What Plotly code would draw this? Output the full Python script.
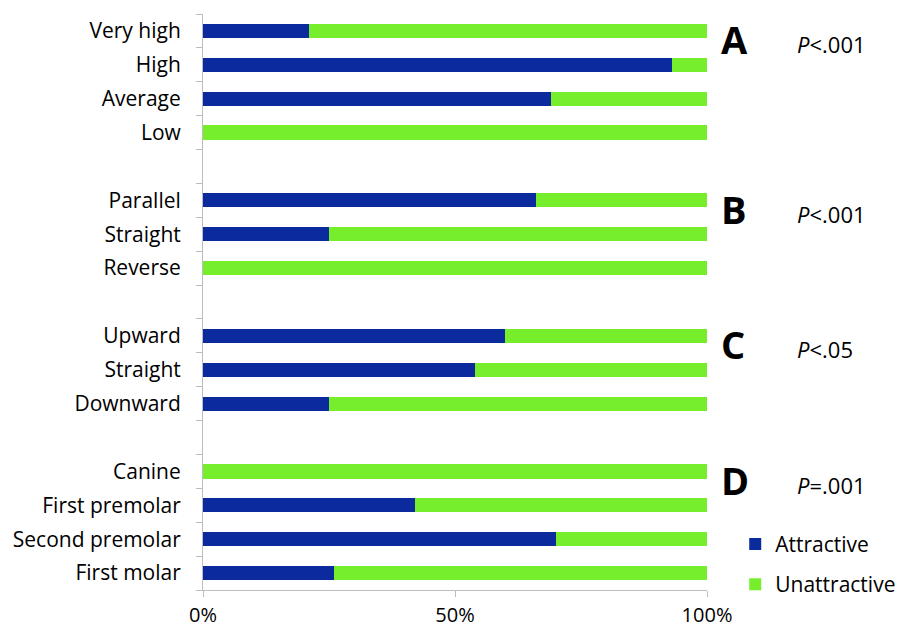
import plotly.graph_objects as go

categories = ["Very high", "High", "Average", "Low", "",
              "Parallel", "Straight", "Reverse", "",
              "Upward", "Straight", "Downward", "",
              "Canine", "First premolar", "Second premolar", "First molar"]
attractive = [0.21, 0.93, 0.69, 0.0, None,
              0.66, 0.25, 0.0, None,
              0.60, 0.54, 0.25, None,
              0.0, 0.42, 0.70, 0.26]
unattractive = [None if a is None else round(1 - a, 4) for a in attractive]

group_letters = ["A", "B", "C", "D"]
group_first_rows = [0, 5, 9, 13]
p_values = ["<i>P</i>&lt;.001", "<i>P</i>&lt;.001", "<i>P</i>&lt;.05", "<i>P</i>=.001"]

blue = "#0B2A9E"
green = "#76EE2C"
font = "Open Sans"
pos = list(range(len(categories)))

fig = go.Figure()
fig.add_trace(go.Bar(y=pos, x=attractive, orientation="h", name="Attractive",
                     marker=dict(color=blue, line=dict(width=0)), width=0.42,
                     legendgroup="a"))
fig.add_trace(go.Bar(y=pos, x=unattractive, orientation="h", name="Unattractive",
                     marker=dict(color=green, line=dict(width=0)), width=0.42,
                     legendgroup="u"))

for letter, row, p in zip(group_letters, group_first_rows, p_values):
    fig.add_annotation(x=1.0, xref="paper", y=row + 0.25, yref="y", text=f"<b>{letter}</b>",
                       showarrow=False, xanchor="left", xshift=12,
                       font=dict(family=font, size=38, color="black"))
    fig.add_annotation(x=1.0, xref="paper", y=row + 0.4, yref="y", text=p,
                       showarrow=False, xanchor="left", xshift=88,
                       font=dict(family=font, size=22, color="black"))

fig.update_layout(
    width=898, height=630,
    margin=dict(l=203, r=191, t=14, b=40, autoexpand=False),
    plot_bgcolor="white", paper_bgcolor="white",
    barmode="stack",
    font=dict(family=font, size=21, color="black"),
    showlegend=True,
    legend=dict(x=1.056, xanchor="left", y=0.115, yanchor="top",
                traceorder="grouped", tracegroupgap=10,
                font=dict(family=font, size=21, color="black"),
                itemwidth=30, bgcolor="rgba(0,0,0,0)"),
)
fig.update_xaxes(range=[0, 1], tickvals=[0, 0.5, 1], tickformat=".0%",
                 showgrid=False, zeroline=False, showline=True, linecolor="#BDBDBD",
                 linewidth=1, ticks="outside", ticklen=6, tickcolor="#BDBDBD",
                 ticklabelstandoff=1, tickfont=dict(size=20), fixedrange=True)
fig.update_yaxes(range=[len(categories) - 0.5, -0.5], tickvals=pos, ticktext=categories,
                 showgrid=False, zeroline=False, showline=True, linecolor="#BDBDBD",
                 linewidth=1, ticks="", ticklabelstandoff=17,
                 minor=dict(tick0=0.5, dtick=1, ticks="outside", ticklen=6,
                            tickcolor="#BDBDBD", showgrid=False),
                 fixedrange=True)

fig.write_html("out.html")
